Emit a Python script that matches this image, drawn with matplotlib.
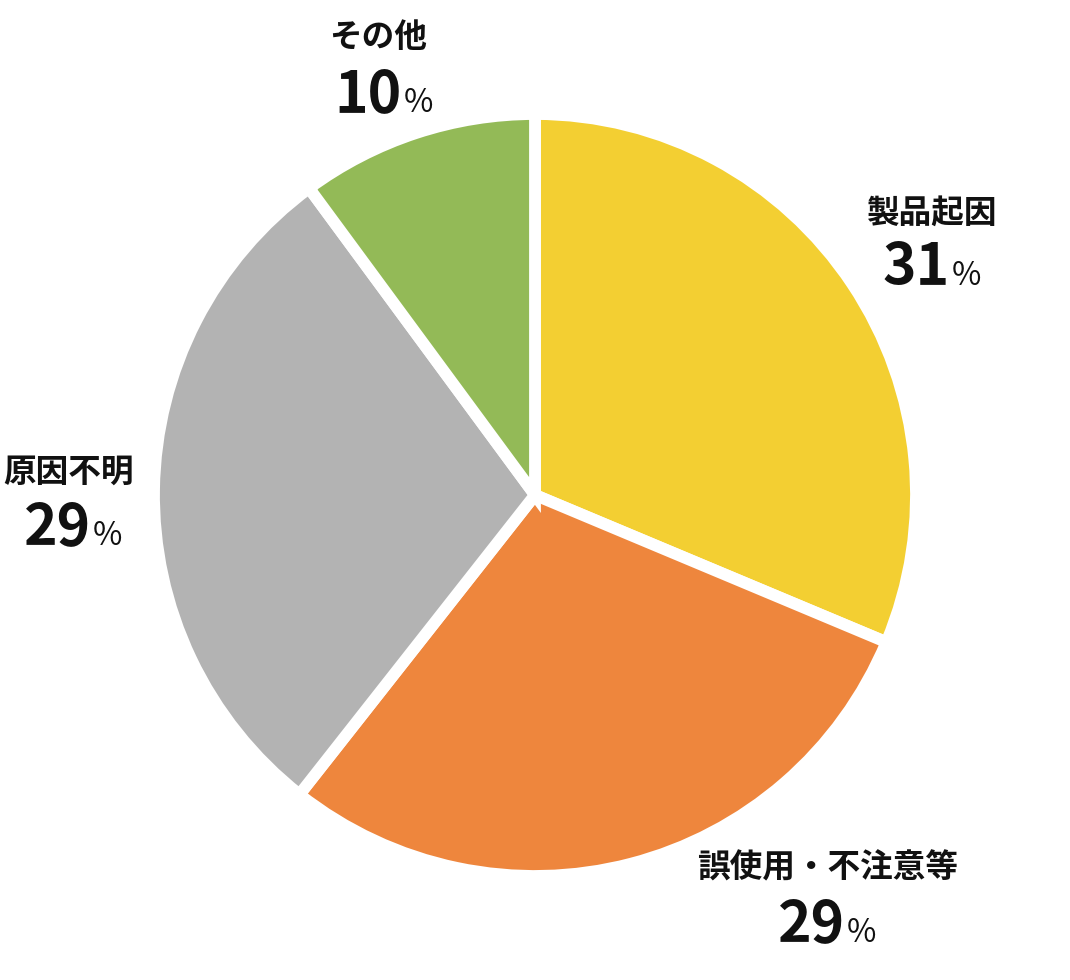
import matplotlib
matplotlib.use("Agg")
import matplotlib.pyplot as plt

plt.rcParams['font.family'] = ['Noto Sans CJK JP', 'DejaVu Sans']

# data, clockwise from the top
labels = ['製品起因', '誤使用・不注意等', '原因不明', 'その他']
values = [31, 29, 29, 10]
colors = ['#F3CF32', '#EE863D', '#B3B3B3', '#93BA57']

# label anchor points (pixels, y from top): label centre, number baseline / split x
label_pos = {
    '製品起因': (932, 213, 950, 285),
    '誤使用・不注意等': (828, 868, 845, 942),
    '原因不明': (69, 472, 91, 545),
    'その他': (378, 38, 402, 112),
}

W, H = 1070, 980
fig = plt.figure(figsize=(W / 100, H / 100), dpi=100)
ax = fig.add_axes([0, 0, 1, 1])
ax.set_xlim(0, W)
ax.set_ylim(0, H)
ax.set_aspect('equal')
ax.axis('off')

ax.pie(values, colors=colors, startangle=90, counterclock=False,
       center=(535, H - 495), radius=381,
       wedgeprops=dict(edgecolor='white', linewidth=8.5))
ax.set_xlim(0, W)
ax.set_ylim(0, H)

for lab, val in zip(labels, values):
    cx, cy, sx, by = label_pos[lab]
    ax.text(cx, H - cy, lab, ha='center', va='center', fontsize=23.5,
            fontweight='bold', color='#111111')
    ax.text(sx, H - by, str(val), ha='right', va='baseline', fontsize=41,
            fontweight='semibold', color='#111111')
    ax.text(sx + 2, H - by, '%', ha='left', va='baseline', fontsize=23,
            color='#111111')

fig.savefig('out.png', dpi=100, facecolor='white')
